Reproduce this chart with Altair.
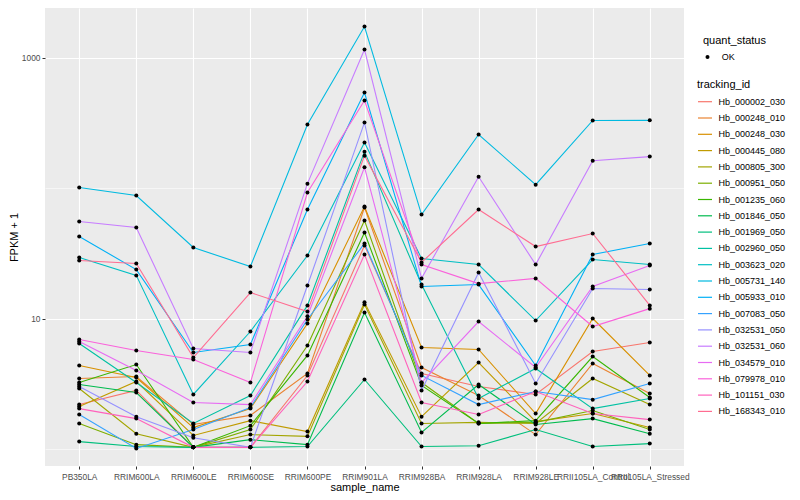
import altair as alt
import pandas as pd

samples = ["PB350LA", "RRIM600LA", "RRIM600LE", "RRIM600SE", "RRIM600PE", "RRIM901LA",
           "RRIM928BA", "RRIM928LA", "RRIM928LE", "RRII105LA_Control", "RRII105LA_Stressed"]

tracking_ids = ["Hb_000002_030", "Hb_000248_010", "Hb_000248_030", "Hb_000445_080", "Hb_000805_300",
                "Hb_000951_050", "Hb_001235_060", "Hb_001846_050", "Hb_001969_050", "Hb_002960_050",
                "Hb_003623_020", "Hb_005731_140", "Hb_005933_010", "Hb_007083_050", "Hb_032531_050",
                "Hb_032531_060", "Hb_034579_010", "Hb_079978_010", "Hb_101151_030", "Hb_168343_010"]

colors = ["#F8766D", "#EA8331", "#D89000", "#C09B00", "#A3A500", "#7CAE00", "#39B600", "#00BB4E",
          "#00BF7D", "#00C1A3", "#00BFC4", "#00BAE0", "#00B0F6", "#35A2FF", "#9590FF", "#C77CFF",
          "#E76BF3", "#FA62DB", "#FF62BC", "#FF6C91"]

# FPKM + 1 values, one list per tracking_id, in sample order
hb_000002_030 = [2.19, 2.81, 1.03, 1.03, 3.66, 36.3, 3.79, 3.01, 2.62, 5.59, 6.55]
hb_000248_010 = [3.47, 3.59, 1.54, 1.81, 3.79, 70.9, 4.21, 2.57, 1.29, 4.52, 2.66]
hb_000248_030 = [4.36, 3.53, 1.46, 2.04, 9.16, 72.0, 5.99, 5.79, 1.87, 10.0, 3.66]
hb_000445_080 = [2.12, 3.29, 1.27, 1.65, 1.36, 13.3, 1.77, 4.60, 1.62, 1.87, 1.46]
hb_000805_300 = [2.91, 1.31, 1.03, 1.29, 1.25, 12.8, 1.57, 1.60, 1.57, 3.47, 2.19]
hb_000951_050 = [1.57, 1.08, 1.03, 1.41, 6.21, 56.4, 3.23, 1.57, 1.60, 1.97, 1.41]
hb_001235_060 = [3.23, 4.44, 1.03, 1.51, 5.21, 45.6, 3.07, 1.57, 1.65, 5.11, 2.48]
hb_001846_050 = [3.12, 2.71, 1.03, 1.18, 1.08, 11.1, 1.34, 3.12, 1.54, 1.71, 1.31]
hb_001969_050 = [1.14, 1.045, 1.03, 1.03, 1.045, 3.41, 1.045, 1.06, 1.41, 1.045, 1.10]
hb_002960_050 = [6.43, 3.23, 1.57, 2.57, 12.6, 190.0, 18.2, 2.44, 4.14, 2.04, 2.44]
hb_003623_020 = [29.3, 21.4, 2.62, 7.95, 30.4, 223.0, 28.8, 25.9, 9.65, 28.3, 25.9]
hb_005731_140 = [101.0, 87.6, 35.0, 25.0, 307.0, 1728.0, 62.6, 257.0, 106.0, 329.0, 330.0]
hb_005933_010 = [42.5, 23.7, 5.49, 6.32, 68.4, 539.0, 17.6, 18.2, 4.36, 30.9, 37.6]
hb_007083_050 = [1.84, 1.01, 1.41, 2.08, 9.82, 37.6, 3.66, 2.19, 2.76, 2.39, 3.18]
hb_032531_050 = [3.01, 1.77, 1.22, 1.03, 17.9, 318.0, 2.81, 22.5, 3.18, 17.0, 16.7]
hb_032531_060 = [55.4, 49.8, 5.89, 5.49, 108.0, 1151.0, 20.3, 122.0, 25.9, 162.0, 174.0]
hb_034579_010 = [6.66, 4.0, 2.27, 2.19, 10.4, 144.0, 3.23, 9.48, 4.21, 17.6, 25.5]
hb_079978_010 = [6.91, 5.69, 4.85, 3.23, 92.4, 468.0, 25.9, 18.5, 20.3, 8.68, 11.9]
hb_101151_030 = [2.04, 1.71, 1.03, 1.03, 3.29, 30.9, 2.27, 1.84, 2.76, 1.87, 1.68]
hb_168343_010 = [27.8, 26.4, 5.02, 15.8, 11.3, 177.0, 26.9, 68.4, 35.6, 44.8, 12.6]

series = [hb_000002_030, hb_000248_010, hb_000248_030, hb_000445_080, hb_000805_300,
          hb_000951_050, hb_001235_060, hb_001846_050, hb_001969_050, hb_002960_050,
          hb_003623_020, hb_005731_140, hb_005933_010, hb_007083_050, hb_032531_050,
          hb_032531_060, hb_034579_010, hb_079978_010, hb_101151_030, hb_168343_010]

rows = []
for tid, vals in zip(tracking_ids, series):
    for s, v in zip(samples, vals):
        rows.append({"tracking_id": tid, "sample_name": s, "value": v, "quant_status": "OK"})
df = pd.DataFrame(rows)

FONT = "Liberation Sans"

x_enc = alt.X("sample_name:N", sort=samples,
              scale=alt.Scale(type="point", padding=0.6, domain=samples),
              axis=alt.Axis(title="sample_name", labelAngle=0, labelOverlap=False,
                            labelFontSize=8.4, labelColor="#4D4D4D", labelPadding=3,
                            tickColor="#333333", tickSize=3, tickWidth=1,
                            domain=False, grid=True, gridColor="white", gridWidth=1.1,
                            titleFontSize=11, titleColor="black", titleFontWeight="normal",
                            titlePadding=1))
y_enc = alt.Y("value:Q",
              scale=alt.Scale(type="log", domain=[0.741, 2395], nice=False),
              axis=alt.Axis(title="FPKM + 1", values=[1, 10, 100, 1000],
                            labelExpr="datum.value == 10 ? '10' : (datum.value == 1000 ? '1000' : '')",
                            labelFontSize=8.4, labelColor="#4D4D4D", labelPadding=2,
                            tickColor="#333333", tickSize=3, tickWidth=1,
                            tickOpacity={"condition": {"test": "datum.value == 1 || datum.value == 100", "value": 0}, "value": 1},
                            gridWidth={"condition": {"test": "datum.value == 1 || datum.value == 100", "value": 0.55}, "value": 1.1},
                            domain=False, grid=True, gridColor="white",
                            titleFontSize=11, titleColor="black", titleFontWeight="normal",
                            titlePadding=2))

lines = alt.Chart(df).mark_line(strokeWidth=1.1).encode(
    x=x_enc,
    y=y_enc,
    color=alt.Color("tracking_id:N",
                    scale=alt.Scale(domain=tracking_ids, range=colors),
                    legend=alt.Legend(title="tracking_id", orient="none", legendX=652, legendY=71,
                                      symbolType="stroke", symbolSize=196, symbolStrokeWidth=1.2,
                                      rowPadding=3.3, labelFontSize=9, labelColor="black",
                                      titleFontSize=11, titleFontWeight="normal", titleColor="black",
                                      titlePadding=3.7, labelOffset=5.5, padding=0,
                                      symbolLimit=50)),
    detail="tracking_id:N",
)

points = alt.Chart(df).mark_circle(size=16, opacity=1, strokeWidth=0).encode(
    x=alt.X("sample_name:N", sort=samples),
    y=alt.Y("value:Q"),
    fill=alt.Fill("quant_status:N", scale=alt.Scale(range=["black"]),
                  legend=alt.Legend(title="quant_status", orient="none", legendX=658, legendY=27,
                                    symbolType="circle", symbolSize=16, symbolStrokeWidth=0,
                                    labelFontSize=9, labelColor="black",
                                    titleFontSize=11, titleFontWeight="normal", titleColor="black",
                                    titlePadding=6.5, labelOffset=9.7, padding=0)),
)

chart = alt.layer(lines, points).properties(
    width=639, height=458,
    autosize=alt.AutoSizeParams(type="none"),
    padding={"left": 37, "top": 0, "right": 104, "bottom": 28},
).configure(
    font=FONT,
    background="white",
).configure_view(
    fill="#EBEBEB", stroke=None,
)

chart.save("out.html", embed_options={"renderer": "svg", "actions": False})
